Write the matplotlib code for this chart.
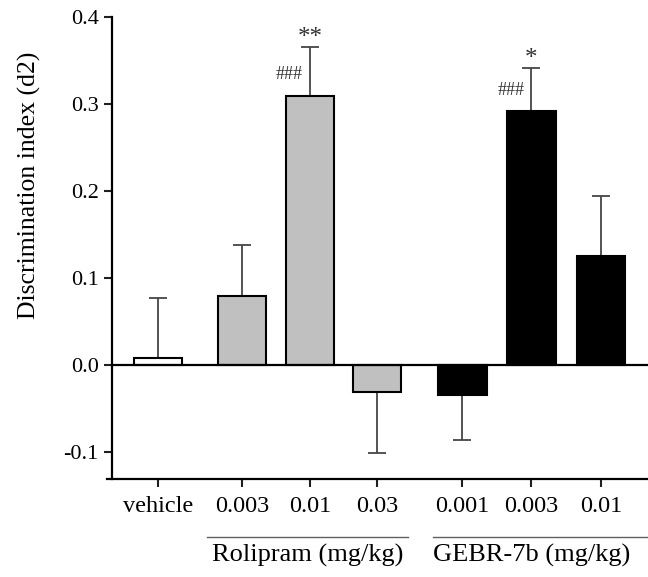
import numpy as np
import matplotlib
matplotlib.use("Agg")
import matplotlib.pyplot as plt

# values
labels = ["vehicle", "0.003", "0.01", "0.03", "0.001", "0.003", "0.01"]
means = [0.008, 0.079, 0.309, -0.031, -0.035, 0.291, 0.125]
sems = [0.069, 0.059, 0.056, 0.070, 0.051, 0.050, 0.069]
colors = ["white", "#c0c0c0", "#c0c0c0", "#c0c0c0", "black", "black", "black"]
groups = ["Rolipram (mg/kg)", "GEBR-7b (mg/kg)"]
stars = {2: "**", 5: "*"}
hashes = {2: "###", 5: "###"}

xpos = np.array([0, 1.22, 2.2, 3.17, 4.41, 5.41, 6.42])

plt.rcParams["font.family"] = ["Liberation Serif", "DejaVu Serif"]

fig = plt.figure(figsize=(6.48, 5.77), dpi=100)
ax = fig.add_axes([112 / 648, 98 / 577, 1 - 112 / 648, (479 - 16.5) / 577])

means = np.array(means)
sems = np.array(sems)
up = np.where(means >= 0, sems, 0)
down = np.where(means < 0, sems, 0)

ax.errorbar(xpos, means, yerr=[down, up], fmt="none", ecolor="#454545",
            elinewidth=1.3, capsize=6.5, capthick=1.3, zorder=1)
ax.bar(xpos, means, width=0.7, color=colors, edgecolor="black",
       linewidth=1.5, zorder=2)
ax.axhline(0, color="black", linewidth=1.6, zorder=3)

for i, s in stars.items():
    ax.text(xpos[i], means[i] + sems[i] - 0.002, s, ha="center", va="bottom",
            fontsize=18, color="#303030")
for i, s in hashes.items():
    ax.text(xpos[i] - 0.1, means[i] + 0.024, s, ha="right", va="center",
            fontsize=13, color="#303030")

ax.set_xlim(-0.667, 7.1)
ax.set_ylim(-0.131, 0.4)
ax.set_yticks([-0.1, 0.0, 0.1, 0.2, 0.3, 0.4])
ax.set_yticklabels(["-0.1", "0.0", "0.1", "0.2", "0.3", "0.4"])
ax.set_xticks(xpos)
ax.set_xticklabels(labels)
ax.tick_params(axis="y", labelsize=16, width=1.5, length=6, color="#202020")
ax.tick_params(axis="x", labelsize=17.5, width=1.5, length=6, color="#202020",
               pad=6)
ax.set_ylabel("Discrimination index (d2)", fontsize=18.5)
ax.yaxis.set_label_coords(-0.133, 0.636)

for side in ["top", "right"]:
    ax.spines[side].set_visible(False)
ax.spines["left"].set_linewidth(1.6)
ax.spines["bottom"].set_linewidth(1.6)
ax.spines["bottom"].set_bounds(-0.74, 7.1)

# group lines and labels below the tick labels
trans = ax.get_xaxis_transform()
spans = [(0.71, 3.62), (3.99, 7.1)]
label_x = [2.17, 5.42]
for (a, b), g, lx in zip(spans, groups, label_x):
    ax.plot([a, b], [-0.125, -0.125], transform=trans, color="#606060",
            linewidth=1.0, clip_on=False)
    ax.text(lx, -0.14, g, transform=trans, ha="center", va="top", fontsize=19)

fig.savefig("out.png", dpi=100)
